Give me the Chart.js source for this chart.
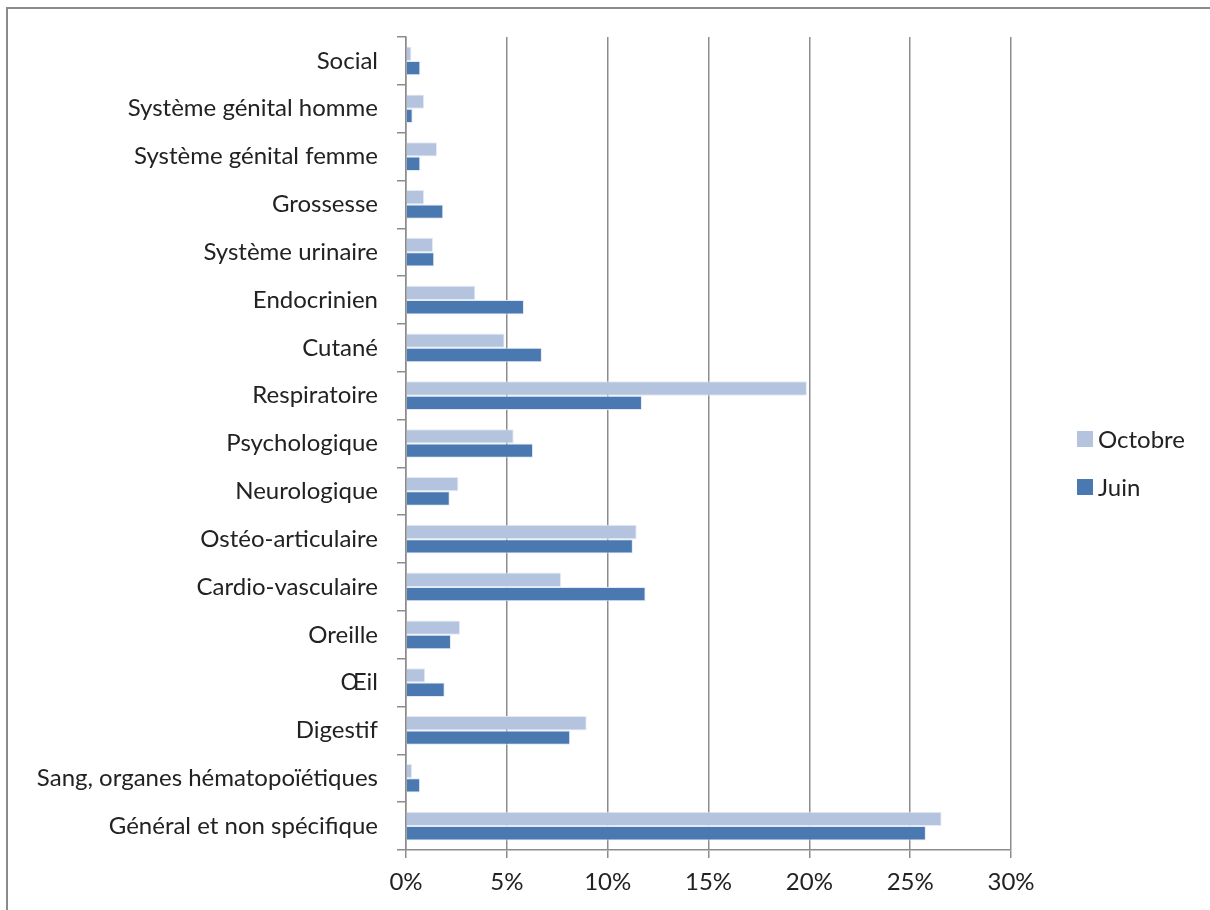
<!DOCTYPE html>
<html>
<head>
<meta charset="utf-8">
<script src="https://cdn.jsdelivr.net/npm/chart.js@4"></script>
<style>
html,body{margin:0;padding:0;background:#fff;}
#wrap{position:relative;width:1210px;height:910px;}
</style>
</head>
<body>
<div id="wrap"><canvas id="c" width="1210" height="910"></canvas></div>
<script>
const categories = ["Social","Système génital homme","Système génital femme","Grossesse","Système urinaire","Endocrinien","Cutané","Respiratoire","Psychologique","Neurologique","Ostéo-articulaire","Cardio-vasculaire","Oreille","Œil","Digestif","Sang, organes hématopoïétiques","Général et non spécifique"];
const octobre = [0.27,0.9,1.54,0.9,1.34,3.44,4.89,19.88,5.34,2.6,11.44,7.69,2.68,0.95,8.96,0.3,26.56];
const juin    = [0.71,0.33,0.71,1.85,1.4,5.85,6.74,11.7,6.3,2.17,11.25,11.88,2.23,1.92,8.14,0.7,25.78];
const xTicks = [0,5,10,15,20,25,30];

const FONT = "Lato, 'Open Sans', sans-serif";
const TXT = "#222";

const framePlugin = {
  id:'frame',
  beforeDraw(chart){
    const ctx = chart.ctx;
    ctx.save();
    ctx.fillStyle = '#fff';
    ctx.fillRect(0,0,chart.width,chart.height);
    ctx.strokeStyle = '#8a8a8a';
    ctx.lineWidth = 2;
    ctx.beginPath();
    ctx.moveTo(1210,8);
    ctx.lineTo(7,8);
    ctx.lineTo(7,910);
    ctx.stroke();
    ctx.restore();
  }
};

const legendPlugin = {
  id:'customLegend',
  afterDraw(chart){
    const ctx = chart.ctx;
    ctx.save();
    const items = chart.data.datasets;
    const ys = [439, 487];
    items.forEach((ds,i)=>{
      ctx.fillStyle = ds.backgroundColor;
      ctx.fillRect(1077, ys[i]-8, 16, 16);
      ctx.fillStyle = TXT;
      ctx.font = "24px " + FONT;
      ctx.textBaseline = 'middle';
      ctx.textAlign = 'left';
      ctx.fillText(ds.label, 1098, ys[i]+1);
    });
    ctx.restore();
  }
};

new Chart(document.getElementById('c'), {
  type:'bar',
  data:{
    labels: categories,
    datasets:[
      {label:'Octobre', data:octobre, backgroundColor:'#b4c3de', borderColor:'rgba(225,232,244,0.9)', borderWidth:1, categoryPercentage:0.6, barPercentage:1.0},
      {label:'Juin', data:juin, backgroundColor:'#4a78b0', borderColor:'rgba(225,232,244,0.9)', borderWidth:1, categoryPercentage:0.6, barPercentage:1.0}
    ]
  },
  options:{
    indexAxis:'y',
    responsive:false,
    animation:false,
    devicePixelRatio:1,
    layout:{padding:{top:37,right:199,left:0,bottom:0}},
    plugins:{legend:{display:false}, tooltip:{enabled:false}},
    scales:{
      x:{
        min:0,max:30,
        afterBuildTicks(scale){ scale.ticks = xTicks.map(v=>({value:v})); },
        afterFit(scale){ scale.height = 60; },
        grid:{color:'#8c8c8c', lineWidth:1.5, tickLength:8, drawTicks:true, tickColor:'#8c8c8c'},
        border:{color:'#8c8c8c', width:1.5},
        ticks:{callback:(v)=>v+'%', color:TXT, font:{family:FONT,size:24}, padding:10, maxRotation:0}
      },
      y:{
        afterFit(scale){ scale.width = 406; },
        grid:{display:true, drawOnChartArea:false, offset:true, tickLength:9, tickColor:'#8c8c8c', lineWidth:1.5},
        border:{color:'#8c8c8c', width:1.5},
        ticks:{color:TXT, font:{family:FONT,size:24}, padding:19, autoSkip:false}
      }
    }
  },
  plugins:[framePlugin, legendPlugin]
});
</script>
</body>
</html>
